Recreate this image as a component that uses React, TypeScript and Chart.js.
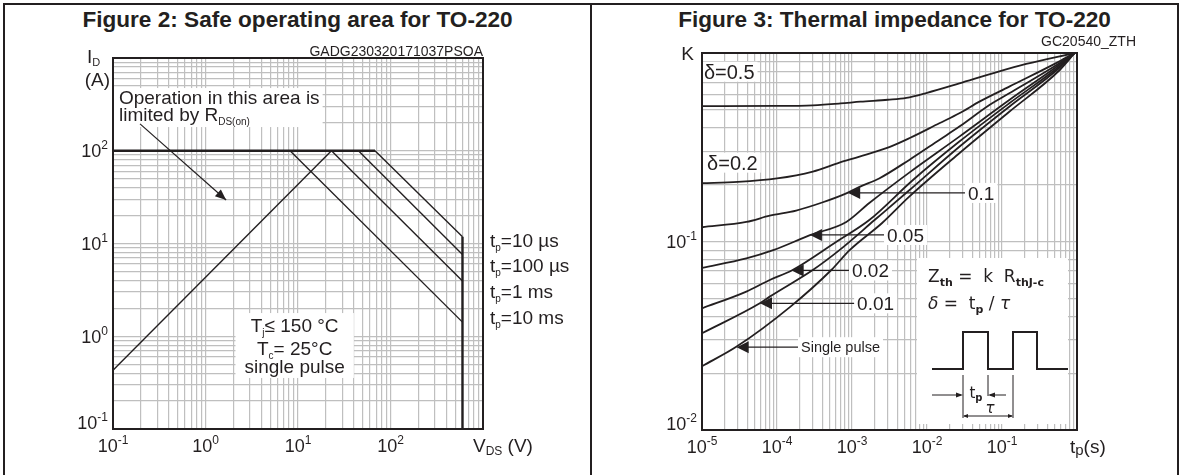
import React, { useEffect, useRef } from 'react';
import { Chart, registerables } from 'chart.js';

Chart.register(...registerables);

const FONT = "'Liberation Sans', Arial, Helvetica, sans-serif";
const FORMULA_FONT = "'DejaVu Sans', 'Liberation Sans', sans-serif";
const INK = '#231f20';
const GRID = '#bfbfbf';

/* ---------------- Figure 2 : Safe operating area ---------------- */
const soaGridDecadesV = [-1, 0, 1, 2];
const soaGridDecadesI = [-1, 0, 1, 2];
const soaTickV = [0.1, 1, 10, 100];
const soaTickVExp = ['-1', '0', '1', '2'];
const soaTickI = [0.1, 1, 10, 100];
const soaTickIExp = ['-1', '0', '1', '2'];

const soaLimitV = [0.1, 68];
const soaLimitI = [100, 100];
const soaRdsV = [0.1, 23];
const soaRdsI = [0.43, 100];
const soaTp10usV = [68, 600];
const soaTp10usI = [100, 11.8];
const soaTp100usV = [45, 600];
const soaTp100usI = [100, 7.6];
const soaTp1msV = [23, 600];
const soaTp1msI = [100, 3.95];
const soaTp10msV = [8.2, 600];
const soaTp10msI = [100, 1.42];
const soaVmaxV = [600, 600];
const soaVmaxI = [11.8, 0.1];

const soaPulseLabels = ['10 µs', '100 µs', '1 ms', '10 ms'];
const soaPulseLabelI = [10.9, 5.87, 3.08, 1.61];
const soaNoteV = 0.116;
const soaNoteI = [319, 209];
const soaArrowV = [0.196, 1.67];
const soaArrowI = [195, 29.4];
const soaCondV = 9.2;
const soaCondI = [1.11, 0.628, 0.402];

/* ---------------- Figure 3 : Thermal impedance ---------------- */
const zthGridDecadesT = [-5, -4, -3, -2, -1];
const zthGridDecadesK = [-2, -1];
const zthTickT = [1e-5, 1e-4, 1e-3, 1e-2, 1e-1];
const zthTickTExp = ['-5', '-4', '-3', '-2', '-1'];
const zthTickK = [0.01, 0.1];
const zthTickKExp = ['-2', '-1'];

const zthT05 = [1e-5, 1e-4, 3e-4, 7e-4, 1.3e-3, 3e-3, 5.3e-3, 1e-2, 2.7e-2, 7.5e-2, 0.21, 0.93];
const zthK05 = [0.523, 0.524, 0.528, 0.54, 0.552, 0.565, 0.578, 0.615, 0.69, 0.78, 0.875, 1.0];
const zthT02 = [1e-5, 3e-5, 1e-4, 3e-4, 6.8e-4, 1.26e-3, 3.2e-3, 5.8e-3, 1.46e-2, 2.7e-2, 5e-2, 0.125, 0.575, 0.93];
const zthK02 = [0.204, 0.207, 0.216, 0.235, 0.262, 0.282, 0.318, 0.353, 0.424, 0.479, 0.552, 0.663, 0.9, 1.0];
const zthT01 = [1e-5, 3.9e-5, 8e-5, 1.8e-4, 4e-4, 8.4e-4, 1.26e-3, 2.3e-3, 5.8e-3, 1.46e-2, 2.7e-2, 6.8e-2, 0.125, 0.575, 0.93];
const zthK01 = [0.119, 0.127, 0.137, 0.146, 0.161, 0.18, 0.195, 0.216, 0.271, 0.346, 0.407, 0.53, 0.611, 0.88, 1.0];
const zthT005 = [1e-5, 3.9e-5, 8.9e-5, 2.75e-4, 8.4e-4, 1.7e-3, 5.8e-3, 2.7e-2, 0.125, 0.575, 0.93];
const zthK005 = [0.0725, 0.0814, 0.09, 0.108, 0.127, 0.16, 0.232, 0.36, 0.563, 0.863, 1.0];
const zthT002 = [1e-5, 3.9e-5, 8e-5, 1.57e-4, 6.2e-4, 1.7e-3, 6.5e-3, 2.7e-2, 0.125, 0.575, 0.93];
const zthK002 = [0.0442, 0.0542, 0.0625, 0.0702, 0.0998, 0.13, 0.212, 0.339, 0.541, 0.846, 1.0];
const zthT001 = [1e-5, 5.9e-5, 8e-5, 3e-4, 6.8e-4, 2e-3, 5.8e-3, 2.7e-2, 0.125, 0.575, 0.93];
const zthK001 = [0.0326, 0.047, 0.051, 0.0706, 0.09, 0.13, 0.187, 0.318, 0.519, 0.83, 1.0];
const zthTsp = [1e-5, 2.9e-5, 1.5e-4, 5.3e-4, 9.3e-4, 2.5e-3, 5.8e-3, 2.7e-2, 0.125, 0.575, 0.93];
const zthKsp = [0.0218, 0.0277, 0.045, 0.0706, 0.09, 0.125, 0.173, 0.294, 0.488, 0.805, 1.0];

const zthDutyLabels = ['δ=0.5', 'δ=0.2'];
const zthDutyLabelT = [1.06e-5, 1.17e-5];
const zthDutyLabelK = [0.796, 0.262];
const zthArrowLabels = ['0.1', '0.05', '0.02', '0.01', 'Single pulse'];
const zthArrowTextT = [0.0352, 2.93e-3, 1.0e-3, 1.17e-3, 2.09e-4];
const zthArrowK = [0.181, 0.1083, 0.0702, 0.047, 0.0275];
const zthArrowTipT = [8.9e-4, 2.75e-4, 1.57e-4, 5.93e-5, 2.9e-5];

/* ---------------- helpers ---------------- */
type Run = { t: string; size: number; dy?: number; bold?: boolean; italic?: boolean; family?: string };
const fontOf = (r: Run) => `${r.italic ? 'italic ' : ''}${r.bold ? 'bold ' : ''}${r.size}px ${r.family || FONT}`;

function runsWidth(ctx: CanvasRenderingContext2D, runs: Run[]) {
  let w = 0;
  for (const r of runs) {
    ctx.font = fontOf(r);
    w += ctx.measureText(r.t).width;
  }
  return w;
}

function drawRuns(ctx: CanvasRenderingContext2D, runs: Run[], x: number, y: number, align: 'left' | 'center' | 'right' = 'left') {
  const w = runsWidth(ctx, runs);
  let cx = align === 'left' ? x : align === 'center' ? x - w / 2 : x - w;
  ctx.textAlign = 'left';
  ctx.textBaseline = 'alphabetic';
  ctx.fillStyle = INK;
  for (const r of runs) {
    ctx.font = fontOf(r);
    ctx.fillText(r.t, cx, y + (r.dy || 0));
    cx += ctx.measureText(r.t).width;
  }
  return w;
}

const pow10 = (e: string): Run[] => [{ t: '10', size: 18 }, { t: e, size: 12, dy: -8 }];

function arrowHead(ctx: CanvasRenderingContext2D, tx: number, ty: number, fx: number, fy: number, len: number, half: number) {
  const ang = Math.atan2(ty - fy, tx - fx);
  const c = Math.cos(ang), s = Math.sin(ang);
  ctx.beginPath();
  ctx.moveTo(tx, ty);
  ctx.lineTo(tx - len * c + half * s, ty - len * s - half * c);
  ctx.lineTo(tx - len * c - half * s, ty - len * s + half * c);
  ctx.closePath();
  ctx.fill();
}

function gridValues(decades: number[]) {
  const vals: number[] = [];
  for (const d of decades) for (let m = 1; m <= 9; m++) vals.push(Number((m * Math.pow(10, d)).toPrecision(3)));
  vals.push(Number(Math.pow(10, decades[decades.length - 1] + 1).toPrecision(3)));
  return vals;
}

function logAxis(min: number, max: number, decades: number[]) {
  return {
    type: 'logarithmic' as const,
    min,
    max,
    afterBuildTicks: (scale: any) => {
      scale.ticks = gridValues(decades).map((v) => ({ value: v }));
    },
    ticks: { display: false },
    grid: { color: GRID, lineWidth: 1.2, drawTicks: false },
    border: { display: false },
  };
}

const pts = (xs: number[], ys: number[]) => xs.map((x, i) => ({ x, y: ys[i] }));

function drawTickLabels(chart: any, xVals: number[], xExps: string[], yVals: number[], yExps: string[]) {
  const { ctx, chartArea: a, scales } = chart;
  xVals.forEach((v, i) => drawRuns(ctx, pow10(xExps[i]), scales.x.getPixelForValue(v), a.bottom + 23, 'center'));
  yVals.forEach((v, i) => {
    const py = scales.y.getPixelForValue(v);
    const base = Math.abs(py - a.bottom) < 1 ? py : py + 6.5;
    drawRuns(ctx, pow10(yExps[i]), a.left - 5, base, 'right');
  });
}

function drawFrame(chart: any) {
  const { ctx, chartArea: a } = chart;
  ctx.save();
  ctx.strokeStyle = INK;
  ctx.lineWidth = 2;
  ctx.strokeRect(a.left, a.top, a.right - a.left, a.bottom - a.top);
  ctx.restore();
}

/* ---------------- SOA decorations ---------------- */
const noteLine1: Run[] = [{ t: 'Operation in this area is', size: 19 }];
const noteLine2: Run[] = [{ t: 'limited by R', size: 19 }, { t: 'DS(on)', size: 10, dy: 4 }];
const condLines: Run[][] = [
  [{ t: 'T', size: 19 }, { t: 'j', size: 10, dy: 4 }, { t: '≤ 150 °C', size: 19 }],
  [{ t: 'T', size: 19 }, { t: 'c', size: 10, dy: 4 }, { t: '= 25°C', size: 19 }],
  [{ t: 'single pulse', size: 19 }],
];

const soaDecor = {
  id: 'soaDecor',
  beforeDatasetsDraw(chart: any) {
    const { ctx, chartArea: a, scales } = chart;
    const xs = scales.x, ys = scales.y;
    ctx.save();
    const nx = xs.getPixelForValue(soaNoteV);
    const b1 = ys.getPixelForValue(soaNoteI[0]);
    const b2 = ys.getPixelForValue(soaNoteI[1]);
    const nw = Math.max(runsWidth(ctx, noteLine1), runsWidth(ctx, noteLine2));
    ctx.fillStyle = '#fff';
    ctx.fillRect(a.left + 1, b1 - 16, nx + nw + 3 - a.left - 1, b2 + 6 - (b1 - 16));
    const cx = xs.getPixelForValue(soaCondV);
    const cb = soaCondI.map((v) => ys.getPixelForValue(v));
    const cw = Math.max(...condLines.map((l) => runsWidth(ctx, l)));
    ctx.fillStyle = '#fff';
    ctx.fillRect(cx - cw / 2 - 9, cb[0] - 19, cw + 18, cb[2] + 5 - (cb[0] - 19));
    ctx.restore();
  },
  afterDatasetsDraw(chart: any) {
    const { ctx, chartArea: a, scales } = chart;
    const xs = scales.x, ys = scales.y;
    drawFrame(chart);
    ctx.save();
    const nx = xs.getPixelForValue(soaNoteV);
    drawRuns(ctx, noteLine1, nx, ys.getPixelForValue(soaNoteI[0]));
    drawRuns(ctx, noteLine2, nx, ys.getPixelForValue(soaNoteI[1]));
    const ax0 = xs.getPixelForValue(soaArrowV[0]), ay0 = ys.getPixelForValue(soaArrowI[0]);
    const ax1 = xs.getPixelForValue(soaArrowV[1]), ay1 = ys.getPixelForValue(soaArrowI[1]);
    ctx.strokeStyle = INK;
    ctx.fillStyle = INK;
    ctx.lineWidth = 1.2;
    ctx.beginPath();
    ctx.moveTo(ax0, ay0);
    ctx.lineTo(ax1, ay1);
    ctx.stroke();
    arrowHead(ctx, ax1, ay1, ax0, ay0, 11, 4.5);
    const cx = xs.getPixelForValue(soaCondV);
    condLines.forEach((l, i) => drawRuns(ctx, l, cx, ys.getPixelForValue(soaCondI[i]), 'center'));
    soaPulseLabels.forEach((lab, i) => {
      drawRuns(ctx, [{ t: 't', size: 19 }, { t: 'p', size: 10, dy: 4 }, { t: '=' + lab, size: 19 }], a.right + 7, ys.getPixelForValue(soaPulseLabelI[i]) + 7);
    });
    drawRuns(ctx, [{ t: 'I', size: 19 }, { t: 'D', size: 11, dy: 3 }], a.left - 26, a.top + 5);
    drawRuns(ctx, [{ t: '(A)', size: 19 }], a.left - 3, a.top + 28, 'right');
    drawRuns(ctx, [{ t: 'V', size: 19 }, { t: 'DS', size: 12, dy: 3 }, { t: ' (V)', size: 19 }], a.right - 10, a.bottom + 23);
    drawRuns(ctx, [{ t: 'GADG230320171037PSOA', size: 14 }], a.right, a.top - 2, 'right');
    drawTickLabels(chart, soaTickV, soaTickVExp, soaTickI, soaTickIExp);
    ctx.restore();
  },
};

/* ---------------- Zth decorations ---------------- */
const formula1: Run[] = [
  { t: 'Z', size: 17, family: FORMULA_FONT },
  { t: 'th', size: 11, dy: 4, bold: true, family: FORMULA_FONT },
  { t: ' =  k  R', size: 17, family: FORMULA_FONT },
  { t: 'thJ-c', size: 11, dy: 4, bold: true, family: FORMULA_FONT },
];
const formula2: Run[] = [
  { t: 'δ', size: 17, italic: true, family: FORMULA_FONT },
  { t: ' =  t', size: 17, family: FORMULA_FONT },
  { t: 'p', size: 11, dy: 4, bold: true, family: FORMULA_FONT },
  { t: ' / ', size: 17, family: FORMULA_FONT },
  { t: 'τ', size: 17, italic: true, family: FORMULA_FONT },
];

const zthDecor = {
  id: 'zthDecor',
  beforeDatasetsDraw(chart: any) {
    const { ctx, chartArea: a, scales } = chart;
    const xs = scales.x, ys = scales.y;
    ctx.save();
    zthDutyLabels.forEach((lab, i) => {
      const px = xs.getPixelForValue(zthDutyLabelT[i]);
      const py = ys.getPixelForValue(zthDutyLabelK[i]);
      const w = runsWidth(ctx, [{ t: lab, size: 20 }]);
      ctx.fillStyle = '#fff';
      ctx.fillRect(a.left + 1, py - 10, px + w + 3 - a.left - 1, 20);
    });
    zthArrowLabels.forEach((lab, i) => {
      const size = i === 4 ? 14.5 : 19;
      const px = xs.getPixelForValue(zthArrowTextT[i]);
      const py = ys.getPixelForValue(zthArrowK[i]);
      const w = runsWidth(ctx, [{ t: lab, size }]);
      ctx.fillStyle = '#fff';
      ctx.fillRect(px - 3, py - 10, w + 6, 20);
    });
    ctx.fillStyle = '#fff';
    ctx.fillRect(a.right - 160, a.bottom - 172, 151, 166);
    ctx.restore();
  },
  afterDatasetsDraw(chart: any) {
    const { ctx, chartArea: a, scales } = chart;
    const xs = scales.x, ys = scales.y;
    drawFrame(chart);
    ctx.save();
    zthDutyLabels.forEach((lab, i) => {
      drawRuns(ctx, [{ t: lab, size: 20 }], xs.getPixelForValue(zthDutyLabelT[i]), ys.getPixelForValue(zthDutyLabelK[i]) + 7);
    });
    zthArrowLabels.forEach((lab, i) => {
      const size = i === 4 ? 14.5 : 19;
      const px = xs.getPixelForValue(zthArrowTextT[i]);
      const py = ys.getPixelForValue(zthArrowK[i]);
      const tip = xs.getPixelForValue(zthArrowTipT[i]);
      ctx.lineWidth = 1.3;
      ctx.strokeStyle = INK;
      ctx.beginPath();
      ctx.moveTo(px - 3, py);
      ctx.lineTo(tip + 6, py);
      ctx.stroke();
      ctx.fillStyle = INK;
      arrowHead(ctx, tip, py, px, py, 12, 6);
      drawRuns(ctx, [{ t: lab, size }], px, py + (i === 4 ? 5 : 7));
    });
    const bx = a.right - 160, by = a.bottom - 172;
    drawRuns(ctx, formula1, bx + 11, by + 24);
    drawRuns(ctx, formula2, bx + 11, by + 51);
    ctx.strokeStyle = INK;
    ctx.lineWidth = 2;
    ctx.beginPath();
    const wave = [[15, 111], [46, 111], [46, 74], [71, 74], [71, 111], [96, 111], [96, 74], [120, 74], [120, 111], [151, 111]];
    wave.forEach(([wx, wy], i) => (i === 0 ? ctx.moveTo(bx + wx, by + wy) : ctx.lineTo(bx + wx, by + wy)));
    ctx.stroke();
    ctx.lineWidth = 1;
    ctx.beginPath();
    ctx.moveTo(bx + 46, by + 117); ctx.lineTo(bx + 46, by + 160);
    ctx.moveTo(bx + 71, by + 117); ctx.lineTo(bx + 71, by + 138);
    ctx.moveTo(bx + 96, by + 117); ctx.lineTo(bx + 96, by + 160);
    ctx.moveTo(bx + 15, by + 137); ctx.lineTo(bx + 44, by + 137);
    ctx.moveTo(bx + 89, by + 137); ctx.lineTo(bx + 73, by + 137);
    ctx.moveTo(bx + 47, by + 158); ctx.lineTo(bx + 95, by + 158);
    ctx.stroke();
    ctx.fillStyle = INK;
    arrowHead(ctx, bx + 46, by + 137, bx + 15, by + 137, 7, 2.5);
    arrowHead(ctx, bx + 71, by + 137, bx + 89, by + 137, 7, 2.5);
    arrowHead(ctx, bx + 46, by + 158, bx + 96, by + 158, 5, 2);
    arrowHead(ctx, bx + 96, by + 158, bx + 46, by + 158, 5, 2);
    drawRuns(ctx, [{ t: 't', size: 15, family: FORMULA_FONT }, { t: 'p', size: 10, dy: 3, bold: true, family: FORMULA_FONT }], bx + 59, by + 140, 'center');
    drawRuns(ctx, [{ t: 'τ', size: 15, italic: true, family: FORMULA_FONT }], bx + 73, by + 155, 'center');
    drawRuns(ctx, [{ t: 'K', size: 19 }], a.left - 8, a.top + 7, 'right');
    drawRuns(ctx, [{ t: 'GC20540_ZTH', size: 14 }], a.right + 59, a.top - 7, 'right');
    drawRuns(ctx, [{ t: 't', size: 19 }, { t: 'p', size: 15, dy: 2 }, { t: '(s)', size: 19 }], a.right - 7, a.bottom + 23);
    drawTickLabels(chart, zthTickT, zthTickTExp, zthTickK, zthTickKExp);
    ctx.restore();
  },
};

/* ---------------- chart configs ---------------- */
const soaLine = (data: any[], w: number) => ({ data, borderColor: INK, borderWidth: w, pointRadius: 0, tension: 0, fill: false });
const zthLine = (data: any[]) => ({ data, borderColor: INK, borderWidth: 1.8, pointRadius: 0, cubicInterpolationMode: 'monotone' as const, fill: false });

function soaConfig(): any {
  return {
    type: 'line',
    data: {
      datasets: [
        soaLine(pts(soaLimitV, soaLimitI), 2.6),
        soaLine(pts(soaRdsV, soaRdsI), 1.4),
        soaLine(pts(soaTp10usV, soaTp10usI), 1.4),
        soaLine(pts(soaTp100usV, soaTp100usI), 1.4),
        soaLine(pts(soaTp1msV, soaTp1msI), 1.4),
        soaLine(pts(soaTp10msV, soaTp10msI), 1.4),
        soaLine(pts(soaVmaxV, soaVmaxI), 2.4),
      ],
    },
    options: {
      animation: false,
      responsive: true,
      maintainAspectRatio: false,
      events: [],
      layout: { padding: { left: 108, right: 107, top: 53, bottom: 46 }, autoPadding: false },
      plugins: { legend: { display: false }, tooltip: { enabled: false }, title: { display: false } },
      scales: { x: logAxis(0.1, 1000, soaGridDecadesV), y: logAxis(0.1, 1000, soaGridDecadesI) },
    },
    plugins: [soaDecor],
  };
}

function zthConfig(): any {
  return {
    type: 'line',
    data: {
      datasets: [
        zthLine(pts(zthT05, zthK05)),
        zthLine(pts(zthT02, zthK02)),
        zthLine(pts(zthT01, zthK01)),
        zthLine(pts(zthT005, zthK005)),
        zthLine(pts(zthT002, zthK002)),
        zthLine(pts(zthT001, zthK001)),
        zthLine(pts(zthTsp, zthKsp)),
      ],
    },
    options: {
      animation: false,
      responsive: true,
      maintainAspectRatio: false,
      events: [],
      layout: { padding: { left: 110, right: 100, top: 48, bottom: 45 }, autoPadding: false },
      plugins: { legend: { display: false }, tooltip: { enabled: false }, title: { display: false } },
      scales: { x: logAxis(1e-5, 1, zthGridDecadesT), y: logAxis(0.01, 1, zthGridDecadesK) },
    },
    plugins: [zthDecor],
  };
}

const titleStyle = (cx: number): React.CSSProperties => ({
  position: 'absolute',
  left: cx,
  top: 9,
  transform: 'translateX(-50%)',
  whiteSpace: 'nowrap',
  font: `bold 22.6px ${FONT}`,
  lineHeight: '22px',
  color: INK,
});

export default function App() {
  const soaRef = useRef<HTMLCanvasElement>(null);
  const zthRef = useRef<HTMLCanvasElement>(null);
  useEffect(() => {
    Chart.defaults.font.family = FONT;
    const c1 = new Chart(soaRef.current as HTMLCanvasElement, soaConfig());
    const c2 = new Chart(zthRef.current as HTMLCanvasElement, zthConfig());
    return () => {
      c1.destroy();
      c2.destroy();
    };
  }, []);
  return (
    <div style={{ position: 'absolute', left: 0, top: 0, width: 1183, height: 475, background: '#fff', overflow: 'hidden' }}>
      <div style={{ position: 'absolute', left: 3, top: 3, width: 1176, height: 490, border: `2px solid ${INK}`, boxSizing: 'border-box' }} />
      <div style={{ position: 'absolute', left: 590, top: 3, width: 2, height: 472, background: INK }} />
      <div style={titleStyle(297.5)}>Figure 2: Safe operating area for TO-220</div>
      <div style={titleStyle(894.5)}>Figure 3: Thermal impedance for TO-220</div>
      <div style={{ position: 'absolute', left: 5, top: 5, width: 585, height: 470 }}>
        <canvas ref={soaRef} />
      </div>
      <div style={{ position: 'absolute', left: 592, top: 5, width: 585, height: 470 }}>
        <canvas ref={zthRef} />
      </div>
    </div>
  );
}
